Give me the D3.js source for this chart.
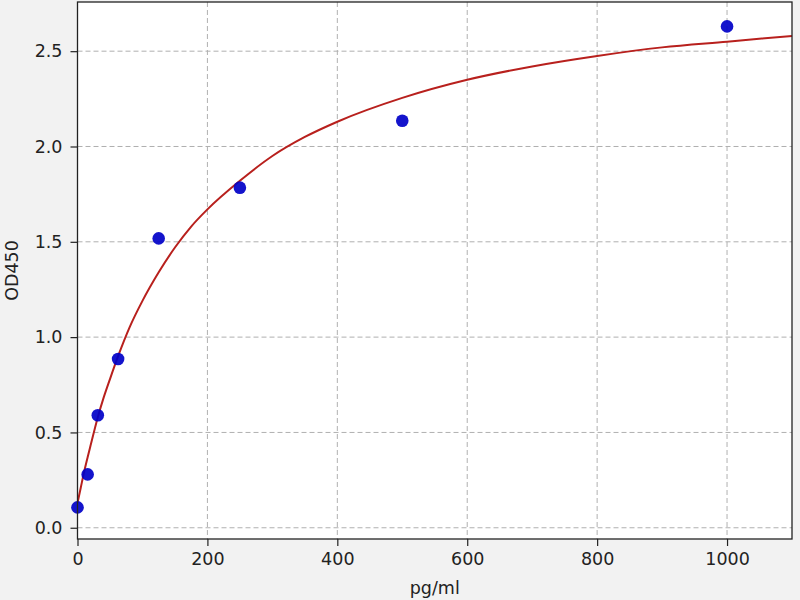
<!DOCTYPE html>
<html>
<head>
<meta charset="utf-8">
<script src="https://cdn.jsdelivr.net/npm/d3@7"></script>
<style>
  html, body { margin: 0; padding: 0; background: #f2f2f2; }
  svg { display: block; }
  text { font-family: "DejaVu Sans", sans-serif; fill: #222; }
</style>
</head>
<body>
<svg id="chart" width="800" height="600"></svg>
<script>
// Standard points (pg/ml vs OD450)
const concentrations = [0, 15.625, 31.25, 62.5, 125, 250, 500, 1000];
const odValues = [0.107, 0.28, 0.59, 0.885, 1.518, 1.784, 2.135, 2.63];

// Fitted curve
const curveX = [0, 5, 10, 15.6, 20, 31.25, 40, 50, 62.5, 80, 100, 125, 150, 175, 200, 250, 300, 350, 400, 500, 600, 700, 800, 900, 1000, 1100];
const curveY = [0.13, 0.21, 0.29, 0.37, 0.43, 0.58, 0.68, 0.78, 0.90, 1.05, 1.19, 1.34, 1.47, 1.58, 1.67, 1.82, 1.95, 2.05, 2.13, 2.255, 2.35, 2.42, 2.475, 2.52, 2.55, 2.58];

// Tick labels
const xTicks = [0, 200, 400, 600, 800, 1000];
const yTicks = [0.0, 0.5, 1.0, 1.5, 2.0, 2.5];
const xLabel = "pg/ml";
const yLabel = "OD450";

const svg = d3.select("#chart");
const pL = 77.5, pR = 792, pT = 2, pB = 539;

const x = d3.scaleLinear().domain([0, 1100]).range([pL, pR]);
const y = d3.scaleLinear().domain([-0.059, 2.758]).range([pB, pT]);

svg.append("rect").attr("width", 800).attr("height", 600).attr("fill", "#f2f2f2");
svg.append("rect")
  .attr("x", pL).attr("y", pT)
  .attr("width", pR - pL).attr("height", pB - pT)
  .attr("fill", "#ffffff");

// Grid
const grid = svg.append("g");
grid.selectAll("line.vx").data(xTicks).join("line")
  .attr("x1", d => x(d)).attr("x2", d => x(d))
  .attr("y1", pT).attr("y2", pB)
  .attr("stroke", "#b0b0b0").attr("stroke-width", 1).attr("stroke-dasharray", "5,3");
grid.selectAll("line.hy").data(yTicks).join("line")
  .attr("x1", pL).attr("x2", pR)
  .attr("y1", d => y(d)).attr("y2", d => y(d))
  .attr("stroke", "#b0b0b0").attr("stroke-width", 1).attr("stroke-dasharray", "5,3");

// Axes
const fmtY = d3.format(".1f");
const xAxis = svg.append("g").attr("transform", `translate(0,${pB})`)
  .call(d3.axisBottom(x).tickValues(xTicks).tickFormat(d3.format("d")).tickSize(7).tickPadding(7));
const yAxis = svg.append("g").attr("transform", `translate(${pL},0)`)
  .call(d3.axisLeft(y).tickValues(yTicks).tickFormat(fmtY).tickSize(7).tickPadding(8));
[xAxis, yAxis].forEach(a => {
  a.select(".domain").remove();
  a.selectAll(".tick line").attr("stroke", "#222").attr("stroke-width", 1.2);
  a.selectAll(".tick text").attr("font-size", "17.5px").attr("font-family", "DejaVu Sans, sans-serif").attr("fill", "#222");
});

// Curve
const curveData = curveX.map((v, i) => [v, curveY[i]]);
const line = d3.line().x(d => x(d[0])).y(d => y(d[1])).curve(d3.curveMonotoneX);
svg.append("path").datum(curveData)
  .attr("d", line)
  .attr("fill", "none")
  .attr("stroke", "#b8201d")
  .attr("stroke-width", 2);

// Points
svg.append("g").selectAll("circle")
  .data(concentrations.map((c, i) => [c, odValues[i]]))
  .join("circle")
  .attr("cx", d => x(d[0])).attr("cy", d => y(d[1]))
  .attr("r", 6.3)
  .attr("fill", "#0000c8")
  .attr("fill-opacity", 0.92);

// Frame
svg.append("rect")
  .attr("x", pL).attr("y", pT)
  .attr("width", pR - pL).attr("height", pB - pT)
  .attr("fill", "none").attr("stroke", "#222").attr("stroke-width", 1.3);

// Labels
svg.append("text")
  .attr("x", (pL + pR) / 2).attr("y", 594)
  .attr("text-anchor", "middle").attr("font-size", "17.5px")
  .text(xLabel);
svg.append("text")
  .attr("transform", `translate(18,${(pT + pB) / 2}) rotate(-90)`)
  .attr("text-anchor", "middle").attr("font-size", "17.5px")
  .text(yLabel);
</script>
</body>
</html>
